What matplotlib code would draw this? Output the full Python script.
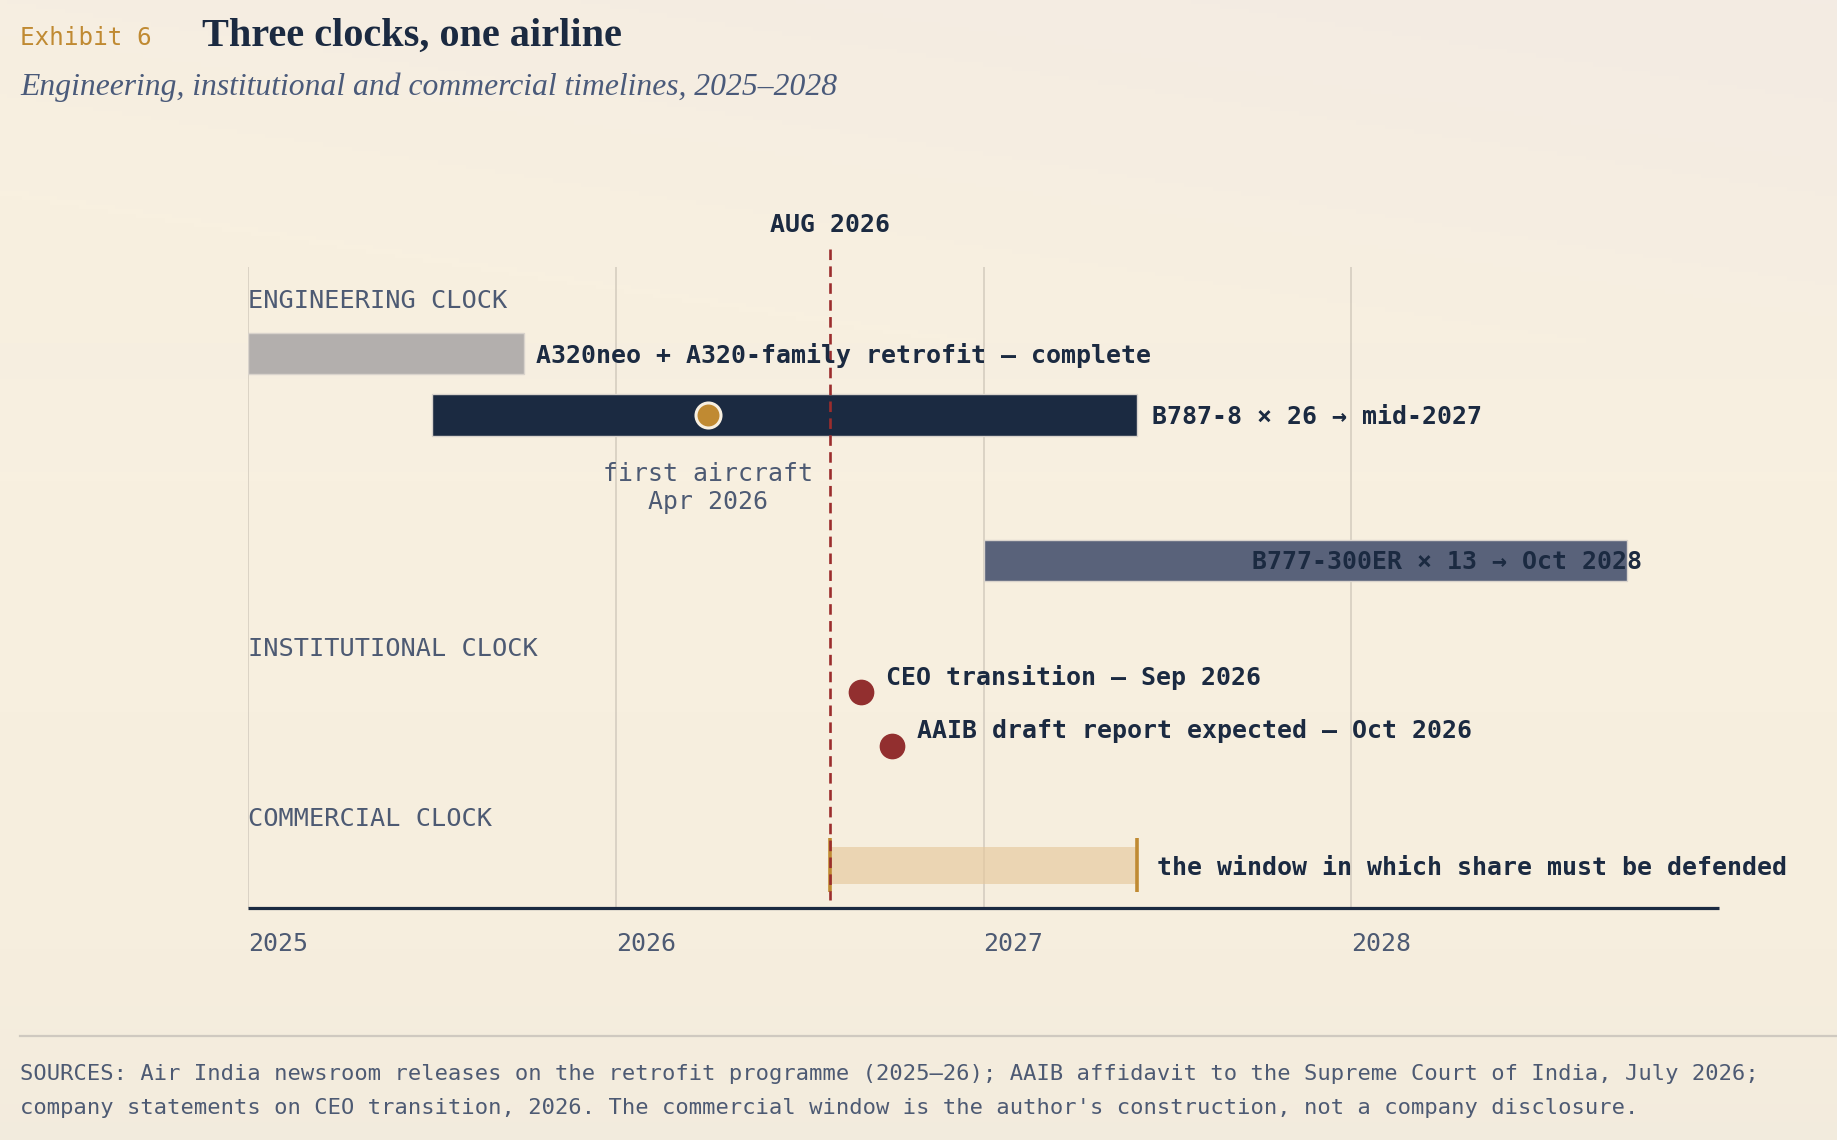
import matplotlib
matplotlib.use("Agg")
import matplotlib.pyplot as plt
import numpy as np
from matplotlib.colors import LinearSegmentedColormap

# ---------------- data ----------------
def ym(year, month):
    return year + (month - 1) / 12.0

years = [2025, 2026, 2027, 2028]
x_min, x_max = 2025, 2029

now_date = ym(2026, 8)
now_label = "AUG 2026"

eng_labels = ["A320neo + A320-family retrofit — complete",
              "B787-8 × 26 → mid-2027",
              "B777-300ER × 13 → Oct 2028"]
eng_start = [ym(2025, 1), ym(2025, 7), ym(2027, 1)]
eng_end = [ym(2025, 10), ym(2027, 6), ym(2028, 10)]

milestone_date = ym(2026, 4)
milestone_label = "first aircraft\nApr 2026"

inst_labels = ["CEO transition — Sep 2026",
               "AAIB draft report expected — Oct 2026"]
inst_dates = [ym(2026, 9), ym(2026, 10)]

window_start = ym(2026, 8)
window_end = ym(2027, 6)
window_label = "the window in which share must be defended"

section_labels = ["ENGINEERING CLOCK", "INSTITUTIONAL CLOCK", "COMMERCIAL CLOCK"]

title = "Three clocks, one airline"
exhibit = "Exhibit 6"
subtitle = "Engineering, institutional and commercial timelines, 2025–2028"
sources = ("SOURCES: Air India newsroom releases on the retrofit programme (2025–26); "
           "AAIB affidavit to the Supreme Court of India, July 2026;\n"
           "company statements on CEO transition, 2026. The commercial window is the "
           "author's construction, not a company disclosure.")

# ---------------- style ----------------
W, H = 1837, 1140
NAVY = "#1b2a41"
SLATE = "#4d5a73"
RED = "#922f2f"
GOLD = "#c08a32"
GRID = "#d8d0c3"
MONO = "DejaVu Sans Mono"
SERIF = "Liberation Serif"
FS = 17.9

fig = plt.figure(figsize=(W / 100, H / 100), dpi=100)

# background gradient
bg = fig.add_axes([0, 0, 1, 1])
bg.set_axis_off()
cmap = LinearSegmentedColormap.from_list("bg", ["#f3ebe3", "#f8f0e0", "#f6eede", "#eee8dc"])
gy = np.linspace(0, 1, 256)[:, None]
gx = np.linspace(0, 1, 256)[None, :]
grad = 0.8 * gy + 0.2 * (1 - gx) * (gy < 0.3)
bg.imshow(grad, cmap=cmap, aspect="auto", extent=[0, 1, 1, 0], vmin=0, vmax=1)
bg.set_xlim(0, 1)
bg.set_ylim(1, 0)

# main axes in pixel-y units
ax_left, ax_right = 248, 1719
ax_top, ax_bot = 200, 908
ax = fig.add_axes([ax_left / W, 1 - ax_bot / H, (ax_right - ax_left) / W, (ax_bot - ax_top) / H])
ax.set_xlim(x_min, x_max)
ax.set_ylim(ax_bot, ax_top)
ax.set_axis_off()
ax.patch.set_alpha(0)

# gridlines
for yr in years:
    ax.plot([yr, yr], [267, ax_bot], color=GRID, lw=1.3, zorder=1, solid_capstyle="butt")
    ax.text(yr, 944, str(yr), family=MONO, fontsize=FS, color=SLATE,
            ha="left", va="center", clip_on=False)

# section labels
for lab, yy in zip(section_labels, [301, 649, 819]):
    ax.text(x_min, yy, lab, family=MONO, fontsize=18.2, color=SLATE, ha="left", va="center")

# engineering bars
bar_y = [353, 415, 560]
bar_h = [41, 42, 41]
bar_colors = ["#b3afad", NAVY, "#59627a"]
for s, e, yy, hh, c in zip(eng_start, eng_end, bar_y, bar_h, bar_colors):
    ax.barh(yy, e - s, left=s, height=hh, color=c, edgecolor="#d9d3cc", lw=1, zorder=3)

ax.annotate(eng_labels[0], (eng_end[0], bar_y[0] + 2), xytext=(12, 0), textcoords="offset pixels",
            family=MONO, fontsize=FS, fontweight="bold", color=NAVY, ha="left", va="center", zorder=6)
ax.annotate(eng_labels[1], (eng_end[1], bar_y[1] + 2), xytext=(15, 0), textcoords="offset pixels",
            family=MONO, fontsize=FS, fontweight="bold", color=NAVY, ha="left", va="center", zorder=6)
ax.annotate(eng_labels[2], (eng_end[2], bar_y[2] + 2), xytext=(15, 0), textcoords="offset pixels",
            family=MONO, fontsize=FS, fontweight="bold", color=NAVY, ha="right", va="center", zorder=6)

# milestone
ax.plot([milestone_date], [415], "o", ms=18, mfc=GOLD, mec="#f7efe0", mew=2.2, zorder=7)
ax.text(milestone_date, 488, milestone_label, family=MONO, fontsize=FS, color=SLATE,
        ha="center", va="center", linespacing=1.25)

# institutional events
inst_y = [692, 746]
for d, yy, lab in zip(inst_dates, inst_y, inst_labels):
    ax.plot([d], [yy], "o", ms=17.5, color=RED, mec=RED, zorder=6)
    ax.annotate(lab, (d, yy - 15), xytext=(25, 0), textcoords="offset pixels",
                family=MONO, fontsize=FS, fontweight="bold", color=NAVY, ha="left", va="center")

# commercial window
ax.barh(865, window_end - window_start, left=window_start, height=37, color="#e6c89c",
        alpha=0.65, lw=0, zorder=3)
for xx in [window_start, window_end]:
    ax.plot([xx, xx], [838, 892], color=GOLD, lw=2.6, zorder=4, solid_capstyle="butt")
ax.annotate(window_label, (window_end, 868), xytext=(20, 0), textcoords="offset pixels",
            family=MONO, fontsize=FS, fontweight="bold", color=NAVY, ha="left", va="center")

# now line
ax.plot([now_date, now_date], [249, 900], color="#9b2d2d", lw=1.9, dashes=(4, 2.4), zorder=5)
ax.text(now_date, 225, now_label, family=MONO, fontsize=FS, fontweight="bold", color=NAVY,
        ha="center", va="center", clip_on=False)

# axis baseline
ax.plot([x_min, x_max], [908, 908], color=NAVY, lw=2.3, zorder=6, clip_on=False,
        solid_capstyle="butt")

# titles
fig.text(20 / W, 1 - 45 / H, exhibit, family=MONO, fontsize=17.5, color=GOLD,
         ha="left", va="baseline")
fig.text(202 / W, 1 - 46 / H, title, family=SERIF, fontsize=29, fontweight="bold",
         color=NAVY, ha="left", va="baseline")
fig.text(20 / W, 1 - 95 / H, subtitle, family=SERIF, fontsize=22.8, style="italic",
         color="#4a5a7a", ha="left", va="baseline")

# footer
bg.plot([20 / W, 1], [1036 / H, 1036 / H], color="#cfc9c0", lw=1.6)
fig.text(20 / W, 1 - 1091 / H, sources, family=MONO, fontsize=15.9, color=SLATE,
         ha="left", va="center", linespacing=1.85)

fig.savefig("out.png", dpi=100)
